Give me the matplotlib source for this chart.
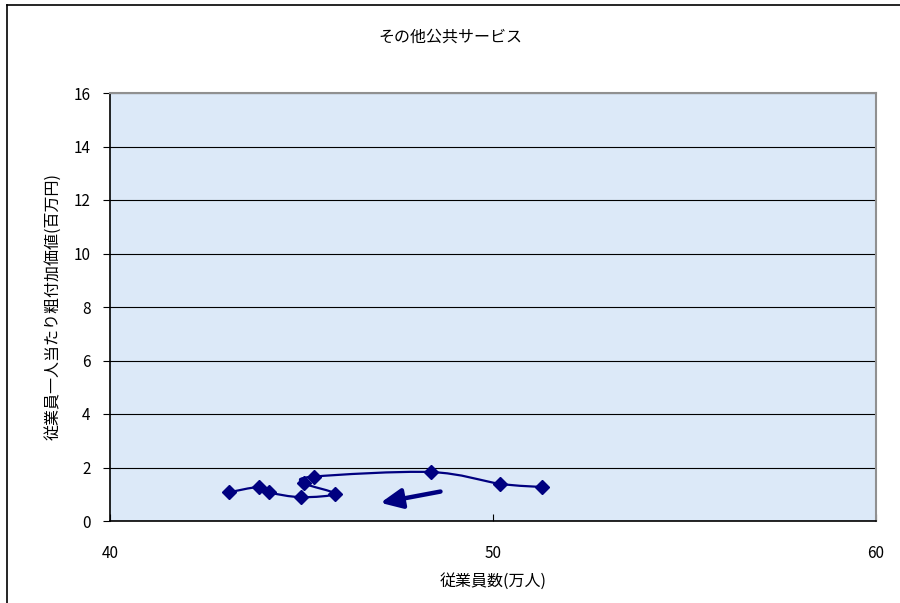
import matplotlib
matplotlib.use("Agg")
import matplotlib.pyplot as plt
from matplotlib.path import Path
from matplotlib.patches import PathPatch
import numpy as np

plt.rcParams['font.family'] = ['Noto Sans CJK JP', 'DejaVu Sans']

# data (chronological order, right to left)
employees = [51.29, 50.19, 48.38, 45.33, 45.07, 45.87, 44.99, 44.15, 43.89, 43.10]
value_added = [1.27, 1.39, 1.83, 1.66, 1.41, 1.02, 0.89, 1.07, 1.27, 1.07]
arrow_tail = (48.70, 1.12)
arrow_head = (46.99, 0.66)
title = "その他公共サービス"
xlabel = "従業員数(万人)"
ylabel = "従業員一人当たり粗付加価値(百万円)"
xticks = [40, 50, 60]
yticks = [0, 2, 4, 6, 8, 10, 12, 14, 16]

navy = "#000080"
fig = plt.figure(figsize=(9, 6.03), dpi=100)
ax = fig.add_axes([110/900, 1-521/603, (876-110)/900, (521-93)/603])
ax.set_facecolor("#dce9f8")
ax.set_xlim(40, 60)
ax.set_ylim(0, 16)
ax.set_xticks(xticks)
ax.set_yticks(yticks)
ax.yaxis.grid(True, color="#000000", linewidth=0.8)
ax.set_axisbelow(True)
for s in ["top", "right"]:
    ax.spines[s].set_color("#909090")
    ax.spines[s].set_linewidth(1.5)
for s in ["left", "bottom"]:
    ax.spines[s].set_color("#000000")
    ax.spines[s].set_linewidth(1.2)
ax.tick_params(axis='x', direction='in', length=5, pad=17, labelsize=11)
ax.tick_params(axis='y', direction='out', length=5, pad=9, labelsize=11)

# smoothed line (Catmull-Rom through the points)
P = np.column_stack([employees, value_added])
n = len(P)
verts = [tuple(P[0])]
codes = [Path.MOVETO]
for i in range(n - 1):
    p0 = P[max(i - 1, 0)]
    p1 = P[i]
    p2 = P[i + 1]
    p3 = P[min(i + 2, n - 1)]
    c1 = p1 + (p2 - p0) / 6
    c2 = p2 - (p3 - p1) / 6
    verts += [tuple(c1), tuple(c2), tuple(p2)]
    codes += [Path.CURVE4] * 3
ax.add_patch(PathPatch(Path(verts, codes), facecolor='none', edgecolor=navy, linewidth=1.6, zorder=3))
ax.plot(employees, value_added, linestyle='none', marker='D', markersize=7, color=navy, zorder=4)

ax.annotate("", xy=arrow_head, xytext=arrow_tail,
            arrowprops=dict(arrowstyle="-|>,head_length=1.3,head_width=0.6", color=navy, lw=3.2), zorder=5)

fig.text(0.5, 1-37/603, title, ha='center', va='center', fontsize=11.5)
ax.set_xlabel(xlabel, fontsize=11.5, labelpad=8)
ax.set_ylabel(ylabel, fontsize=11.5, labelpad=9)

# figure border (top & left)
fig.add_artist(plt.Line2D([7/900, 7/900], [0, 1-5/603], transform=fig.transFigure, color='black', lw=1.2))
fig.add_artist(plt.Line2D([7/900, 1], [1-5/603, 1-5/603], transform=fig.transFigure, color='black', lw=1.2))

fig.savefig("out.png", dpi=100)
